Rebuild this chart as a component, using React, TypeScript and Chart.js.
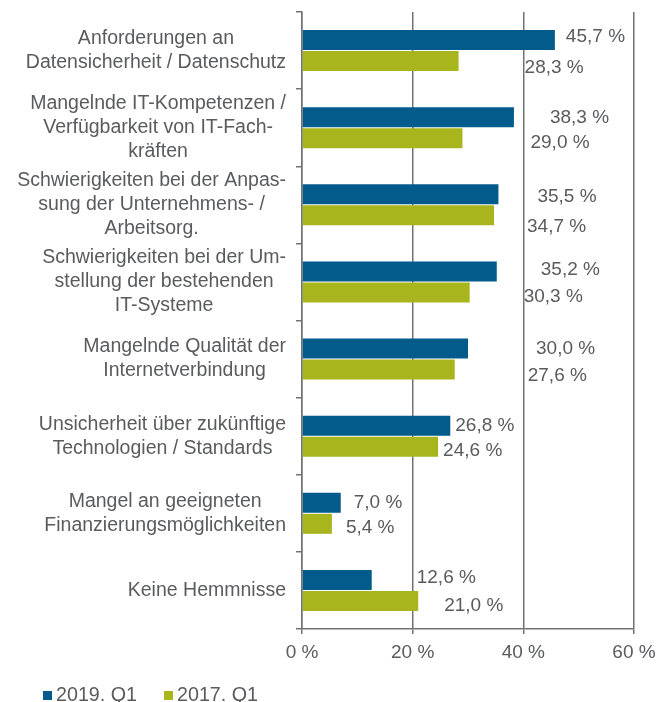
import React, { useEffect, useRef } from "react";
import { Chart, registerables } from "chart.js";

Chart.register(...registerables);

const categories: string[][] = [
  ["Anforderungen an", "Datensicherheit / Datenschutz"],
  ["Mangelnde IT-Kompetenzen /", "Verfügbarkeit von IT-Fach-", "kräften"],
  ["Schwierigkeiten bei der Anpas-", "sung der Unternehmens- /", "Arbeitsorg."],
  ["Schwierigkeiten bei der Um-", "stellung der bestehenden", "IT-Systeme"],
  ["Mangelnde Qualität der", "Internetverbindung"],
  ["Unsicherheit über zukünftige", "Technologien / Standards"],
  ["Mangel an geeigneten", "Finanzierungsmöglichkeiten"],
  ["Keine Hemmnisse"],
];

const series2019 = [45.7, 38.3, 35.5, 35.2, 30.0, 26.8, 7.0, 12.6];
const series2017 = [28.3, 29.0, 34.7, 30.3, 27.6, 24.6, 5.4, 21.0];
const seriesNames = ["2019. Q1", "2017. Q1"];
const xTicks = [0, 20, 40, 60];

// layout of the value labels (pixel shifts from the bar end), as in the source figure
const labelShiftX = [
  [11, 36, 39, 44, 68, 5, 13, 45],
  [66, 68, 33, 54, 73, 5, 14, 26],
];
const labelShiftY = [
  [-3, 1, 2, -2, 0, 0, 0, -2],
  [7, 5, 11, 4, 6, 4, 4, 5],
];

const BLUE = "#035b8c";
const GREEN = "#a8b51c";
const TEXT = "#5a5b5d";
const LINE = "#717274";
const FONT = "'Liberation Sans', Arial, sans-serif";

const fmt = (v: number) => v.toFixed(1).replace(".", ",") + " %";

const overlay = {
  id: "overlay",
  afterDatasetsDraw(chart: any) {
    const ctx = chart.ctx;
    ctx.save();
    ctx.fillStyle = TEXT;
    ctx.font = `19px ${FONT}`;
    // value labels
    chart.data.datasets.forEach((ds: any, di: number) => {
      const meta = chart.getDatasetMeta(di);
      meta.data.forEach((bar: any, i: number) => {
        ctx.textAlign = "left";
        ctx.textBaseline = "middle";
        ctx.fillText(
          fmt(ds.data[i]),
          bar.x + labelShiftX[di][i],
          bar.y + labelShiftY[di][i]
        );
      });
    });
    // category labels: each block right-aligned, lines centred within block
    ctx.font = `19.5px ${FONT}`;
    const yScale = chart.scales.y;
    const rightEdge = yScale.right - 16;
    const lh = 24;
    categories.forEach((lines, i) => {
      const yc = yScale.getPixelForTick(i);
      const w = Math.max(...lines.map((l) => ctx.measureText(l).width));
      const cx = rightEdge - w / 2;
      const y0 = yc - ((lines.length - 1) * lh) / 2;
      ctx.textAlign = "center";
      ctx.textBaseline = "middle";
      lines.forEach((l, k) => ctx.fillText(l, cx, y0 + k * lh));
    });
    // legend
    ctx.font = `19.7px ${FONT}`;
    const legendX = [43, 164];
    chart.data.datasets.forEach((ds: any, di: number) => {
      const x = legendX[di];
      ctx.fillStyle = ds.backgroundColor;
      ctx.fillRect(x, 691, 9, 9);
      ctx.fillStyle = TEXT;
      ctx.textAlign = "left";
      ctx.textBaseline = "alphabetic";
      ctx.fillText(ds.label, x + 13, 701);
    });
    ctx.restore();
  },
};

export default function App() {
  const ref = useRef<HTMLCanvasElement | null>(null);
  useEffect(() => {
    if (!ref.current) return;
    const chart = new Chart(ref.current, {
      type: "bar",
      data: {
        labels: categories.map((c) => c.join(" ")),
        datasets: [
          {
            label: seriesNames[0],
            data: series2019,
            backgroundColor: BLUE,
            categoryPercentage: 0.545,
            barPercentage: 0.952,
          },
          {
            label: seriesNames[1],
            data: series2017,
            backgroundColor: GREEN,
            categoryPercentage: 0.545,
            barPercentage: 0.952,
          },
        ],
      },
      options: {
        indexAxis: "y",
        responsive: false,
        animation: false,
        layout: { padding: { top: 12, right: 36, left: 0, bottom: 0 } },
        plugins: {
          legend: { display: false },
          tooltip: { enabled: false },
        },
        scales: {
          x: {
            type: "linear",
            min: 0,
            max: 60,
            afterBuildTicks: (scale: any) => {
              scale.ticks = xTicks.map((v) => ({ value: v }));
            },
            ticks: {
              color: TEXT,
              font: { family: FONT, size: 19 },
              padding: 7,
              callback: (v: any) => `${v} %`,
            },
            grid: {
              color: LINE,
              lineWidth: 1.5,
              drawTicks: true,
              tickLength: 5,
            },
            border: { display: true, color: LINE, width: 1.5 },
            afterFit: (scale: any) => {
              scale.height = 73;
            },
          },
          y: {
            type: "category",
            offset: true,
            ticks: { display: false },
            grid: {
              offset: true,
              drawOnChartArea: false,
              drawTicks: true,
              tickLength: 6,
              color: LINE,
              lineWidth: 1.5,
            },
            border: { display: true, color: LINE, width: 1.5 },
            afterFit: (scale: any) => {
              scale.width = 302;
            },
          },
        },
      },
      plugins: [overlay],
    });
    return () => chart.destroy();
  }, []);
  return (
    <div
      style={{
        position: "fixed",
        left: 0,
        top: 0,
        width: 670,
        height: 702,
        background: "#fff",
      }}
    >
      <canvas ref={ref} width={670} height={702} style={{ display: "block" }} />
    </div>
  );
}
